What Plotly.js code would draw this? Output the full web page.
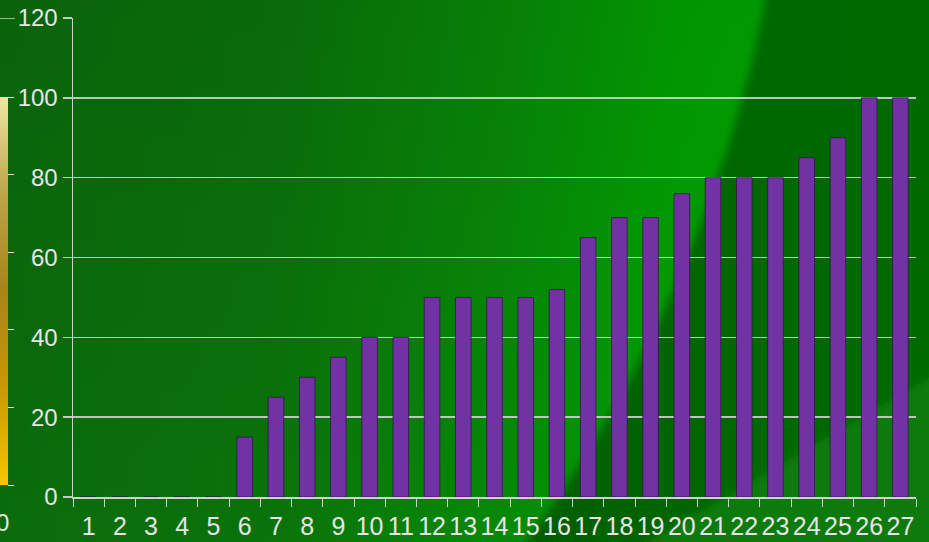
<!DOCTYPE html>
<html>
<head>
<meta charset="utf-8">
<script src="https://cdn.plot.ly/plotly-3.0.1.min.js"></script>
<style>
html,body{margin:0;padding:0;overflow:hidden;}
#chart{width:929px;height:542px;}
</style>
</head>
<body>
<div id="chart"></div>
<script>
// ---- data ----
const categories = ["1","2","3","4","5","6","7","8","9","10","11","12","13","14","15","16","17","18","19","20","21","22","23","24","25","26","27"];
const values = [0,0,0,0,0,15,25,30,35,40,40,50,50,50,50,52,65,70,70,76,80,80,80,85,90,100,100];
const yTicks = [0,20,40,60,80,100,120];
const scaleTicks = [0,20,40,60,80,100];

// ---- background ----
const svg = "<svg xmlns='http://www.w3.org/2000/svg' width='929' height='542'>" +
 "<defs>" +
 "<linearGradient id='g' x1='0' y1='0' x2='1' y2='0'>" +
 "<stop offset='0' stop-color='#0b6b0b'/>" +
 "<stop offset='0.3' stop-color='#0a730a'/>" +
 "<stop offset='0.55' stop-color='#078a07'/>" +
 "<stop offset='0.72' stop-color='#02a002'/>" +
 "<stop offset='0.85' stop-color='#00a800'/>" +
 "</linearGradient>" +
 "<linearGradient id='v' x1='0' y1='0' x2='0' y2='1'>" +
 "<stop offset='0' stop-color='#000' stop-opacity='0.08'/>" +
 "<stop offset='1' stop-color='#000' stop-opacity='0'/>" +
 "</linearGradient>" +
 "<linearGradient id='d' x1='0' y1='0' x2='1' y2='0'>" +
 "<stop offset='0' stop-color='#005800'/>" +
 "<stop offset='0.25' stop-color='#006400'/>" +
 "<stop offset='1' stop-color='#006b00'/>" +
 "</linearGradient>" +
 "<filter id='b' x='-0.2' y='-0.2' width='1.4' height='1.4'><feGaussianBlur stdDeviation='4'/></filter>" +
 "</defs>" +
 "<rect width='929' height='542' fill='url(#g)'/>" +
 "<rect width='929' height='542' fill='url(#v)'/>" +
 "<path d='M768 -20 C 748 120, 665 370, 505 570 L 960 570 L 960 -20 Z' fill='url(#d)' filter='url(#b)'/>" +
 "<path d='M600 570 L 960 360 L 960 570 Z' fill='#0a7a0a' filter='url(#b)'/>" +
 "</svg>";
document.getElementById('chart').style.background = "url(\"data:image/svg+xml," + encodeURIComponent(svg) + "\")";

const W = 929, H = 542, L = 73, R = 13, T = 18, B = 45;
const pw = W - L - R, ph = H - T - B;
const font = {family: "Liberation Sans, Arial, sans-serif", color: "#e6e6e6", size: 24};

const barTrace = {
  type: "bar",
  x: categories,
  y: values,
  width: 0.5,
  marker: {color: "#7132a3", line: {color: "rgba(50,20,70,0.75)", width: 1}},
  hoverinfo: "x+y",
  showlegend: false
};

const scaleTrace = {
  type: "scatter",
  mode: "markers",
  x: categories,
  y: values,
  hoverinfo: "skip",
  showlegend: false,
  marker: {
    opacity: 0,
    size: 1,
    color: values,
    cmin: 0, cmax: 100,
    colorscale: [[0, "#f6c600"], [0.25, "#c89806"], [0.5, "#a8841a"], [0.75, "#bca448"], [1, "#f0e6a4"]],
    showscale: true,
    colorbar: {
      x: -L / pw, xanchor: "left", xref: "paper",
      y: 12 / ph, yanchor: "bottom",
      thickness: 8, thicknessmode: "pixels",
      len: 388, lenmode: "pixels",
      xpad: 0, ypad: 0,
      outlinewidth: 0,
      ticks: "outside", ticklen: 6, tickwidth: 1, tickcolor: "#e0e0e0",
      tickvals: scaleTicks,
      showticklabels: false
    }
  }
};

const layout = {
  width: W, height: H,
  margin: {l: L, r: R, t: T, b: B, pad: 0, autoexpand: false},
  paper_bgcolor: "rgba(0,0,0,0)",
  plot_bgcolor: "rgba(0,0,0,0)",
  font: font,
  xaxis: {
    type: "category",
    range: [-0.5, categories.length - 0.5],
    tickmode: "array",
    tickvals: categories,
    ticktext: categories,
    tickangle: 0,
    tickson: "boundaries",
    ticks: "outside", ticklen: 8, tickwidth: 1, tickcolor: "#d0d0d0",
    ticklabelstandoff: 6,
    showline: true, linecolor: "#d0d0d0", linewidth: 1.5,
    showgrid: false,
    tickfont: {size: 25, color: "#e6e6e6"},
    automargin: false,
    fixedrange: true
  },
  yaxis: {
    range: [0, 120],
    tickvals: yTicks,
    ticks: "outside", ticklen: 9, tickwidth: 1.5, tickcolor: "#c8c8c8",
    showline: true, linecolor: "#d0d0d0", linewidth: 1.5,
    showgrid: true, gridcolor: "rgba(215,215,215,0.85)", gridwidth: 1.5,
    zeroline: false,
    tickfont: {size: 24, color: "#e6e6e6"},
    automargin: false,
    fixedrange: true
  },
  bargap: 0.5,
  shapes: [{
    type: "line", xref: "paper", yref: "y",
    x0: -L / pw, x1: -(L - 15) / pw, y0: 120, y1: 120,
    line: {color: "#d0d0d0", width: 1.5}
  }],
  annotations: [{
    text: "0", showarrow: false,
    xref: "paper", yref: "paper",
    x: -(L - 2) / pw, xanchor: "center",
    y: -25 / ph, yanchor: "middle",
    font: {size: 24, color: "#e6e6e6"}
  }]
};

Plotly.newPlot("chart", [scaleTrace, barTrace], layout, {displayModeBar: false, staticPlot: true});
</script>
</body>
</html>
